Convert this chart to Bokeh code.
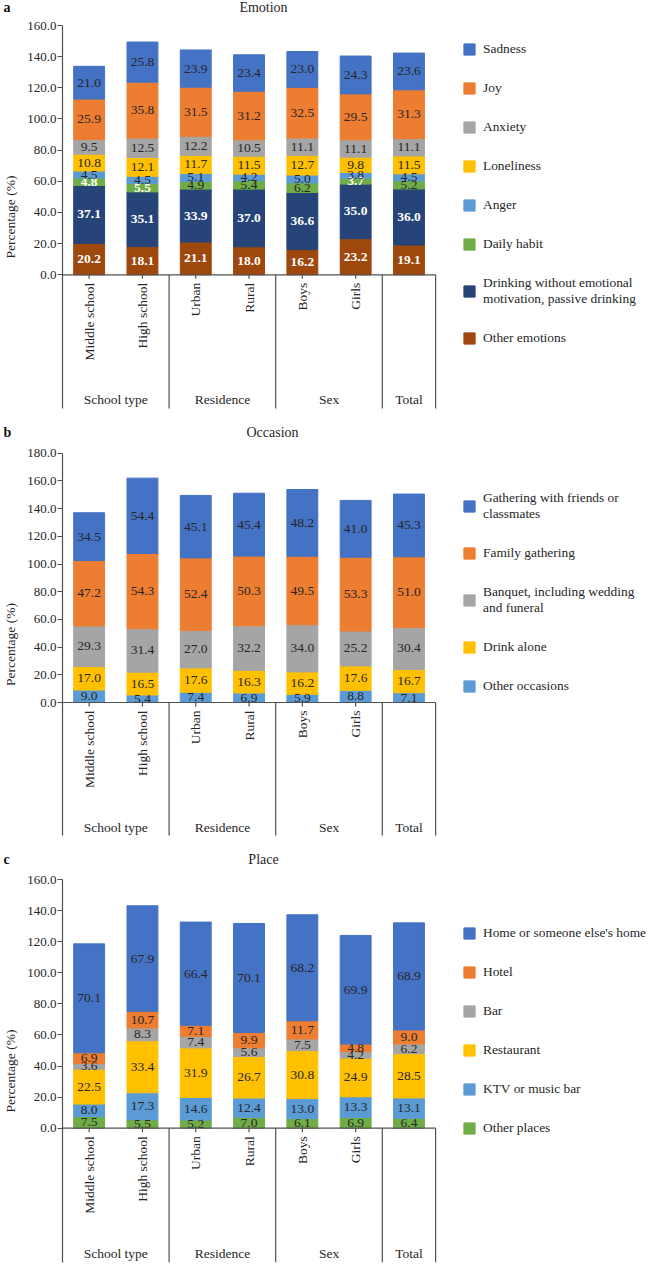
import math
from bokeh.plotting import figure
from bokeh.layouts import column
from bokeh.models import (Range1d, FixedTicker, NumeralTickFormatter, Legend,
                          LegendItem, ColumnDataSource)
from bokeh.embed import file_html
from bokeh.resources import INLINE
from bokeh.core.properties import value, field

FONT = "Liberation Serif"
INK = "#262626"
AXIS = "#505050"
WIDTH = 651
AXIS_X = 62        # pixel column of the value axis
CAT_W = 53.3       # pixel width of one category slot

categories = ["Middle school", "High school", "Urban", "Rural", "Boys", "Girls", "Total"]
tick_labels = ["Middle school", "High school", "Urban", "Rural", "Boys", "Girls", ""]
groups = ["School type", "Residence", "Sex", "Total"]
group_sizes = [2, 2, 2, 1]

# a: Emotion (stacked bottom -> top)
emotion_names = ["Other emotions",
                 "Drinking without emotional\nmotivation, passive drinking",
                 "Daily habit", "Anger", "Loneliness", "Anxiety", "Joy", "Sadness"]
other_emotions = [20.2, 18.1, 21.1, 18.0, 16.2, 23.2, 19.1]
passive_drinking = [37.1, 35.1, 33.9, 37.0, 36.6, 35.0, 36.0]
daily_habit = [4.8, 5.5, 4.9, 5.4, 6.2, 3.7, 5.2]
anger = [4.5, 4.5, 5.1, 4.2, 5.0, 3.8, 4.5]
loneliness = [10.8, 12.1, 11.7, 11.5, 12.7, 9.8, 11.5]
anxiety = [9.5, 12.5, 12.2, 10.5, 11.1, 11.1, 11.1]
joy = [25.9, 35.8, 31.5, 31.2, 32.5, 29.5, 31.3]
sadness = [21.0, 25.8, 23.9, 23.4, 23.0, 24.3, 23.6]
emotion_colors = ["#9E480E", "#264478", "#70AD47", "#5B9BD5", "#FFC000",
                  "#A5A5A5", "#ED7D31", "#4472C4"]
# value labels printed white & bold
emotion_white = [[True] * 7, [True] * 7,
                 [True, True, False, False, False, True, False],
                 [False] * 7, [False] * 7, [False] * 7, [False] * 7, [False] * 7]

# b: Occasion
occasion_names = ["Other occasions", "Drink alone",
                  "Banquet, including wedding\nand funeral", "Family gathering",
                  "Gathering with friends or\nclassmates"]
other_occasions = [9.0, 5.4, 7.4, 6.9, 5.9, 8.8, 7.1]
drink_alone = [17.0, 16.5, 17.6, 16.3, 16.2, 17.6, 16.7]
banquet = [29.3, 31.4, 27.0, 32.2, 34.0, 25.2, 30.4]
family_gathering = [47.2, 54.3, 52.4, 50.3, 49.5, 53.3, 51.0]
friends_gathering = [34.5, 54.4, 45.1, 45.4, 48.2, 41.0, 45.3]
occasion_colors = ["#5B9BD5", "#FFC000", "#A5A5A5", "#ED7D31", "#4472C4"]

# c: Place
place_names = ["Other places", "KTV or music bar", "Restaurant", "Bar", "Hotel",
               "Home or someone else's home"]
other_places = [7.5, 5.5, 5.2, 7.0, 6.1, 6.9, 6.4]
ktv = [8.0, 17.3, 14.6, 12.4, 13.0, 13.3, 13.1]
restaurant = [22.5, 33.4, 31.9, 26.7, 30.8, 24.9, 28.5]
bar = [3.6, 8.3, 7.4, 5.6, 7.5, 4.2, 6.2]
hotel = [6.9, 10.7, 7.1, 9.9, 11.7, 4.8, 9.0]
home = [70.1, 67.9, 66.4, 70.1, 68.2, 69.9, 68.9]
place_colors = ["#70AD47", "#5B9BD5", "#FFC000", "#A5A5A5", "#ED7D31", "#4472C4"]


def panel(letter, title, names, series, colors, ytop, height, top_px, zero_px,
          bottom_px, title_px, legend_xy, white=None):
    """One stacked-bar panel; pixel arguments are rows measured from the panel top."""
    n = len(categories)
    xs = [i + 0.5 for i in range(n)]
    scale = (zero_px - top_px) / ytop            # pixels per percentage point
    ymax = ytop + top_px / scale
    ymin = -(height - zero_px) / scale
    ybottom = -(bottom_px - zero_px) / scale

    def px_x(px):
        return (px - AXIS_X) / CAT_W

    def px_y(py):
        return (zero_px - py) / scale

    p = figure(width=WIDTH, height=height,
               x_range=Range1d(px_x(0), px_x(WIDTH)), y_range=Range1d(ymin, ymax),
               x_axis_location=None, toolbar_location=None, output_backend="svg",
               title=None, min_border=0)
    p.outline_line_color = None
    p.xgrid.visible = False
    p.ygrid.visible = False

    keys = [f"s{i}" for i in range(len(series))]
    data = {"x": xs}
    for k, s in zip(keys, series):
        data[k] = s
    src = ColumnDataSource(data)
    rends = p.vbar_stack(keys, x="x", width=0.58, color=colors, source=src)

    # value labels centred in every segment
    lx, ly, lt, lc, ls = [], [], [], [], []
    base = [0.0] * n
    for si, s in enumerate(series):
        for j, v in enumerate(s):
            lx.append(xs[j])
            ly.append(base[j] + v / 2)
            lt.append(f"{v:.1f}")
            w = white is not None and white[si][j]
            lc.append("white" if w else INK)
            ls.append("bold" if w else "normal")
            base[j] += v
    p.text(x="x", y="y", text="t",
           source=ColumnDataSource(dict(x=lx, y=ly, t=lt, c=lc, st=ls)),
           text_color=field("c"), text_font_style=field("st"),
           text_font=value(FONT), text_font_size=value("13.5px"),
           text_align="center", text_baseline="middle")

    # category axis at y = 0, with group separators running down
    p.segment(x0=[0], y0=[0], x1=[n], y1=[0], line_color=AXIS, line_width=1.2)
    bounds = []
    acc = 0
    for g in group_sizes:
        acc += g
        bounds.append(acc)
    p.segment(x0=bounds, y0=[0] * len(bounds), x1=bounds,
              y1=[ybottom] * len(bounds), line_color=AXIS, line_width=1.2)
    tx = [x for x, t in zip(xs, tick_labels) if t]
    tt = [t for t in tick_labels if t]
    p.ray(x=tx, y=[0] * len(tx), length=4, angle=-math.pi / 2,
          length_units="screen", line_color=AXIS, line_width=1.2)
    p.text(x=tx, y=[0] * len(tx), text=tt, angle=math.pi / 2, y_offset=8,
           text_align="right", text_baseline="middle", text_color=INK,
           text_font=value(FONT), text_font_size=value("13.5px"))
    starts = [0] + bounds[:-1]
    gx = [(a + b) / 2 for a, b in zip(starts, bounds)]
    p.text(x=gx, y=[0] * len(gx), text=groups, y_offset=125,
           text_align="center", text_baseline="middle", text_color=INK,
           text_font=value(FONT), text_font_size=value("13.5px"))

    # panel letter and title
    p.text(x=[px_x(title_px[0])], y=[px_y(title_px[1])], text=[title],
           text_align="center", text_baseline="middle", text_color=INK,
           text_font=value(FONT), text_font_size=value("14px"))
    p.text(x=[px_x(3)], y=[px_y(title_px[1])], text=[letter],
           text_align="left", text_baseline="middle", text_color="#111111",
           text_font=value(FONT), text_font_size=value("14px"),
           text_font_style="bold")

    # value axis pinned at the left edge of the categories
    ax = p.yaxis[0]
    ax.fixed_location = 0
    ax.bounds = (ybottom, ytop)
    ax.ticker = FixedTicker(ticks=list(range(0, int(ytop) + 1, 20)))
    ax.formatter = NumeralTickFormatter(format="0.0")
    ax.axis_label = "Percentage (%)"
    ax.axis_label_text_font = FONT
    ax.axis_label_text_font_style = "normal"
    ax.axis_label_text_font_size = "13.5px"
    ax.axis_label_text_color = INK
    ax.axis_label_standoff = 6
    ax.major_label_text_font = FONT
    ax.major_label_text_font_size = "13px"
    ax.major_label_text_color = INK
    ax.major_label_standoff = 1
    ax.axis_line_color = AXIS
    ax.axis_line_width = 1.2
    ax.major_tick_line_color = AXIS
    ax.major_tick_out = 5
    ax.major_tick_in = 0
    ax.minor_tick_line_color = None

    items = [LegendItem(label=nm, renderers=[r])
             for nm, r in reversed(list(zip(names, rends)))]
    leg = Legend(items=items, location=legend_xy, glyph_width=14, glyph_height=14,
                 label_height=14, label_standoff=7, spacing=23, padding=0, margin=0,
                 label_text_font=FONT, label_text_font_size="13.4px",
                 label_text_color=INK, border_line_color=None,
                 background_fill_alpha=0)
    p.add_layout(leg)
    return p


pa = panel("a", "Emotion", emotion_names,
           [other_emotions, passive_drinking, daily_habit, anger, loneliness,
            anxiety, joy, sadness], emotion_colors,
           160, 410, 25, 274.3, 408, (263, 7), (462, 64), emotion_white)
pb = panel("b", "Occasion", occasion_names,
           [other_occasions, drink_alone, banquet, family_gathering,
            friends_gathering], occasion_colors,
           180, 428, 42.7, 292, 425, (272, 22), (462, 144))
pc = panel("c", "Place", place_names,
           [other_places, ktv, restaurant, bar, hotel, home], place_colors,
           160, 426, 41, 289.7, 423.7, (263, 21), (462, 128))

layout = column(pa, pb, pc, spacing=0)
open("out.html", "w").write(file_html(layout, INLINE))
